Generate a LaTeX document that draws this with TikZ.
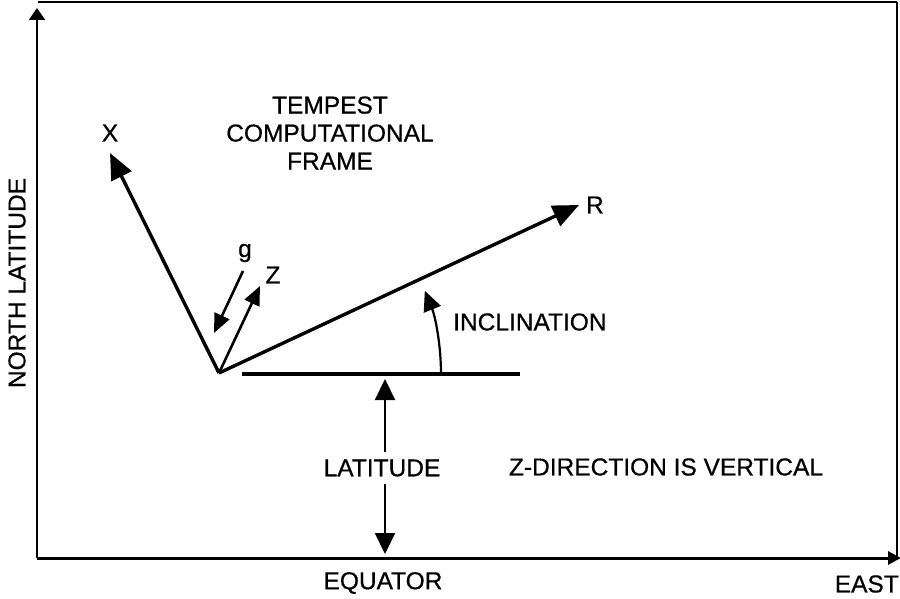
\documentclass[tikz,border=0pt]{standalone}
\usepackage{fontspec}
\setmainfont{Liberation Sans}
\newfontfamily\lblfont{Liberation Sans}[FakeBold=0.6]
\usetikzlibrary{arrows.meta}
\begin{document}
\begin{tikzpicture}[x=1pt,y=-1pt,
  lbl/.style={font=\lblfont\fontsize{24.5}{28}\selectfont, inner sep=1pt},
  bigarrow/.style={line width=3.4pt,-{Triangle[length=26pt,width=22pt]}},
  smallarrow/.style={line width=2.6pt,-{Triangle[length=19pt,width=16pt]}},
  latarrow/.style={line width=2.2pt,-{Triangle[length=21pt,width=20pt]}},
  frameline/.style={line width=2.5pt}]
\useasboundingbox (0,0) rectangle (900,599);
% frame and axes
\coordinate (BL) at (37,558);
\coordinate (TLa) at (37,8);
\coordinate (BRa) at (901,558);
\coordinate (TL) at (38,2);
\coordinate (TR) at (897,2);
\coordinate (BR) at (897,556);
\draw[line width=2.2pt,-{Triangle[length=12pt,width=16pt]}] (BL) -- (TLa);
\draw[line width=3pt,-{Triangle[length=13pt,width=13pt]}] (BL) -- (BRa);
\draw[frameline] (TL) -- (TR);
\draw[line width=2.2pt] (TR) -- (BR);
% frame vectors
\coordinate (O) at (219,373);
\coordinate (Xt) at (110,153);
\coordinate (Rt) at (579,205);
\coordinate (Zt) at (260,286);
\coordinate (gs) at (243,271);
\coordinate (gt) at (214,333);
\coordinate (H1) at (242,374);
\coordinate (H2) at (520,374);
\coordinate (A0) at (441,374);
\draw[bigarrow] (O) -- (Xt);
\draw[bigarrow] (O) -- (Rt);
\draw[smallarrow] (O) -- (Zt);
\draw[smallarrow] (gs) -- (gt);
\draw[line width=3.2pt] (H1) -- (H2);
\draw[line width=2.2pt,-{Triangle[length=20pt,width=18pt]}] (A0) arc[start angle=0,end angle=-22,radius=222];
% labels
\node[lbl] (xl) at (110,133) {X};
\node[lbl] (rl) at (595,205) {R};
\node[lbl] (zl) at (273,275) {Z};
\node[lbl] (gl) at (245,253) {g};
\node[lbl,align=center] (title) at (330,133) {TEMPEST\\COMPUTATIONAL\\FRAME};
\node[lbl,anchor=west] (incl) at (452,322) {INCLINATION};
\node[lbl,fill=white,inner ysep=7pt] (lat) at (382,468) {LATITUDE};
\node[lbl] (zdir) at (666,467) {Z-DIRECTION IS VERTICAL};
\node[lbl] (eq) at (383,583) {EQUATOR};
\node[lbl,anchor=east,inner sep=0pt] (east) at (899,584) {EAST};
\node[lbl,rotate=90] (nl) at (17,283) {NORTH LATITUDE};
% latitude arrows
\coordinate (Lt) at (385,379);
\coordinate (Lb) at (385,554);
\draw[latarrow] (lat.north -| Lt) -- (Lt);
\draw[latarrow] (lat.south -| Lb) -- (Lb);
\end{tikzpicture}
\end{document}
